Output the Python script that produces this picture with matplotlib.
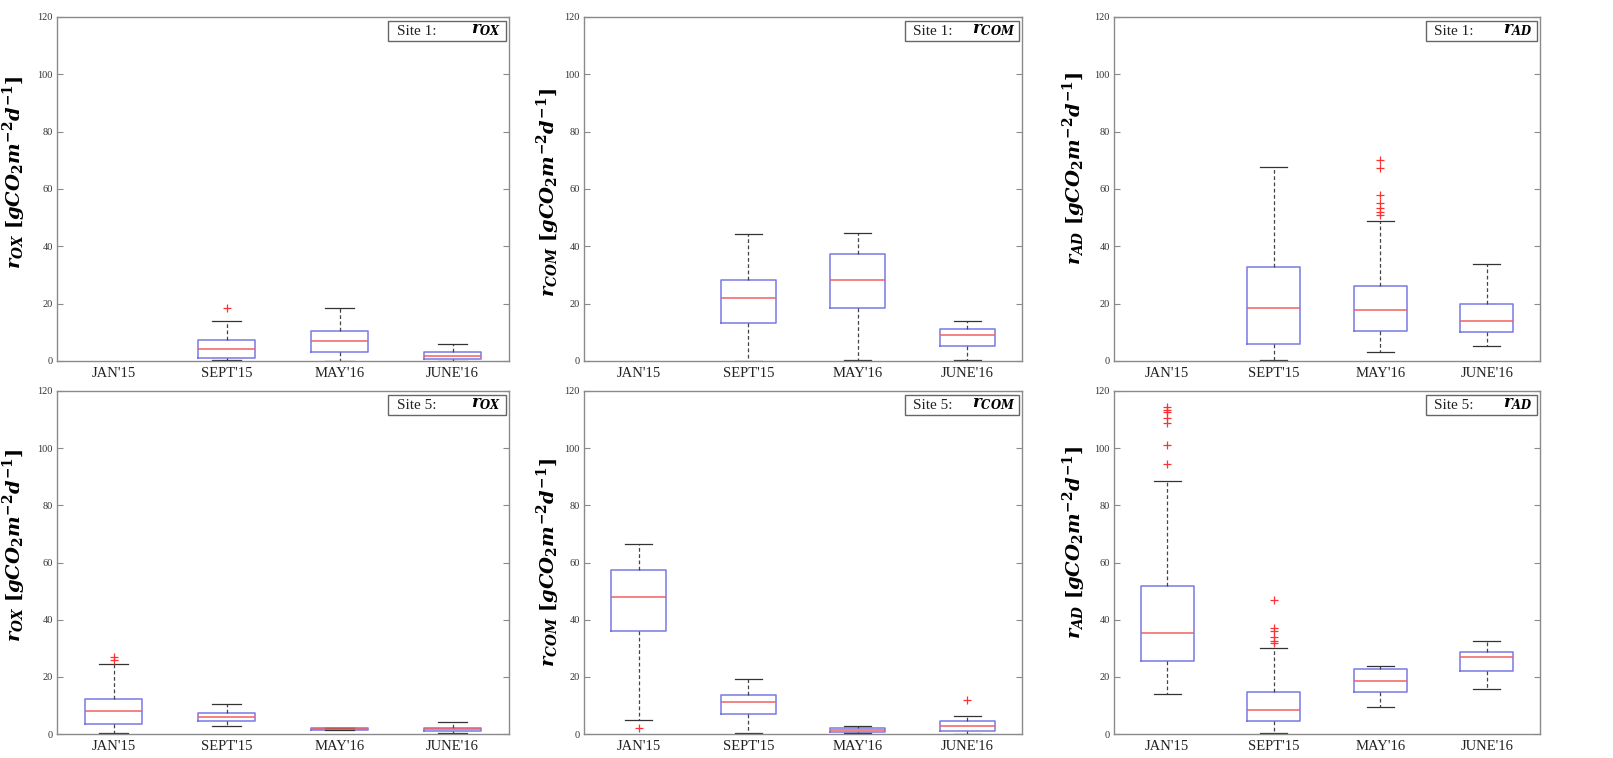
import matplotlib
matplotlib.use("Agg")
import matplotlib.pyplot as plt
from matplotlib.patches import Rectangle

plt.rcParams['mathtext.fontset'] = 'custom'
plt.rcParams['mathtext.it'] = 'DejaVu Serif:italic:bold'
plt.rcParams['mathtext.rm'] = 'DejaVu Serif:bold'
plt.rcParams['mathtext.bf'] = 'DejaVu Serif:bold'
plt.rcParams['font.family'] = ['Liberation Serif', 'DejaVu Serif']

categories = ["JAN'15", "SEPT'15", "MAY'16", "JUNE'16"]
sites = ["Site 1:", "Site 5:"]
rates = ["OX", "COM", "AD"]

# ---- Site 1, r_OX  (None = no data)
s1_ox_q1 = [None, 1.2, 3.0, 0.6]
s1_ox_med = [None, 4.2, 7.1, 1.7]
s1_ox_q3 = [None, 7.3, 10.6, 3.0]
s1_ox_lo = [None, 0.3, 0.1, 0.1]
s1_ox_hi = [None, 13.9, 18.6, 5.8]
s1_ox_fl = [[], [18.4], [], []]

# ---- Site 1, r_COM
s1_com_q1 = [None, 13.4, 18.4, 5.2]
s1_com_med = [None, 22.0, 28.3, 9.2]
s1_com_q3 = [None, 28.2, 37.5, 11.3]
s1_com_lo = [None, 0.1, 0.3, 0.2]
s1_com_hi = [None, 44.2, 44.6, 14.0]
s1_com_fl = [[], [], [], []]

# ---- Site 1, r_AD
s1_ad_q1 = [None, 6.1, 10.6, 10.1]
s1_ad_med = [None, 18.5, 17.8, 13.9]
s1_ad_q3 = [None, 32.7, 26.2, 20.0]
s1_ad_lo = [None, 0.2, 3.0, 5.4]
s1_ad_hi = [None, 67.6, 49.0, 33.9]
s1_ad_fl = [[], [], [70.0, 67.2, 58.0, 55.0, 53.5, 52.0, 51.0], []]

# ---- Site 5, r_OX
s5_ox_q1 = [3.5, 4.5, 1.5, 1.2]
s5_ox_med = [7.9, 5.9, 1.9, 1.6]
s5_ox_q3 = [12.1, 7.2, 2.2, 2.2]
s5_ox_lo = [0.2, 2.8, 1.5, 0.2]
s5_ox_hi = [24.4, 10.4, 2.2, 4.1]
s5_ox_fl = [[26.8, 25.9], [], [], []]

# ---- Site 5, r_COM
s5_com_q1 = [36.0, 6.9, 0.8, 1.2]
s5_com_med = [47.8, 11.1, 1.3, 2.9]
s5_com_q3 = [57.3, 13.6, 2.2, 4.5]
s5_com_lo = [4.9, 0.3, 0.3, 0.1]
s5_com_hi = [66.4, 19.2, 2.7, 6.4]
s5_com_fl = [[2.2], [], [], [11.9]]

# ---- Site 5, r_AD
s5_ad_q1 = [25.5, 4.5, 14.8, 22.0]
s5_ad_med = [35.5, 8.3, 18.6, 27.0]
s5_ad_q3 = [51.9, 14.8, 22.6, 28.7]
s5_ad_lo = [13.9, 0.3, 9.6, 15.6]
s5_ad_hi = [88.6, 30.0, 23.8, 32.7]
s5_ad_fl = [[114.5, 113.5, 112.5, 110.5, 108.8, 101.0, 94.6],
            [46.9, 37.2, 36.0, 34.0, 32.6, 31.7], [], []]

y_ticks = [0, 20, 40, 60, 80, 100, 120]

panels = [
    (0, 0, s1_ox_q1, s1_ox_med, s1_ox_q3, s1_ox_lo, s1_ox_hi, s1_ox_fl),
    (0, 1, s1_com_q1, s1_com_med, s1_com_q3, s1_com_lo, s1_com_hi, s1_com_fl),
    (0, 2, s1_ad_q1, s1_ad_med, s1_ad_q3, s1_ad_lo, s1_ad_hi, s1_ad_fl),
    (1, 0, s5_ox_q1, s5_ox_med, s5_ox_q3, s5_ox_lo, s5_ox_hi, s5_ox_fl),
    (1, 1, s5_com_q1, s5_com_med, s5_com_q3, s5_com_lo, s5_com_hi, s5_com_fl),
    (1, 2, s5_ad_q1, s5_ad_med, s5_ad_q3, s5_ad_lo, s5_ad_hi, s5_ad_fl),
]

W, H = 1613, 758
fig = plt.figure(figsize=(W / 100, H / 100), dpi=100)

col_px = [(57, 509), (584, 1022), (1114, 1540)]
row_px = [(17, 361), (391, 734)]
label_x = [-0.064, -0.050, -0.062]
label_y = [[0.55, 0.49, 0.56], [0.55, 0.50, 0.56]]

box_col = '#7878e6'
med_col = '#f06060'
edge_col = '#8a8a8a'

for r, c, q1, med, q3, lo, hi, fl in panels:
    x0, x1 = col_px[c]
    yt, yb = row_px[r]
    ax = fig.add_axes([x0 / W, 1 - yb / H, (x1 - x0) / W, (yb - yt) / H])
    stats, pos = [], []
    for i in range(len(categories)):
        if med[i] is None:
            continue
        stats.append(dict(q1=q1[i], med=med[i], q3=q3[i], whislo=lo[i],
                          whishi=hi[i], fliers=fl[i]))
        pos.append(i + 1)
    ax.bxp(stats, positions=pos, widths=0.5, showfliers=True,
           boxprops=dict(color=box_col, linewidth=1.1),
           medianprops=dict(color=med_col, linewidth=1.1),
           whiskerprops=dict(color='#444444', linewidth=0.9, linestyle=(0, (3, 2))),
           capprops=dict(color='#333333', linewidth=0.9),
           capwidths=0.25,
           flierprops=dict(marker='+', markeredgecolor='#ff3030',
                           markersize=6, linestyle='none', markeredgewidth=0.9))
    ax.set_xlim(0.5, 4.5)
    ax.set_ylim(0, 120)
    ax.set_xticks(range(1, len(categories) + 1))
    ax.set_xticklabels(categories, fontsize=10.5, color='#222222')
    ax.set_yticks(y_ticks)
    ax.set_yticklabels([str(v) for v in y_ticks], fontsize=7.5, color='#333333')
    ax.tick_params(axis='x', length=0, pad=4)
    ax.tick_params(axis='y', direction='in', length=4, right=True,
                   color=edge_col, pad=3)
    for s in ax.spines.values():
        s.set_color(edge_col)
        s.set_linewidth(1.0)
    ax.set_ylabel(r'$r_{%s}\ [gCO_2m^{-2}d^{-1}]$' % rates[c], fontsize=14)
    ax.yaxis.set_label_coords(label_x[c], label_y[r][c])
    # legend-style box
    ax.add_patch(Rectangle((0.733, 0.930), 0.261, 0.058, transform=ax.transAxes,
                           facecolor='white', edgecolor='#666666', linewidth=1.0,
                           zorder=5))
    ax.text(0.752, 0.959, sites[r], transform=ax.transAxes, fontsize=11,
            va='center', ha='left', zorder=6, color='#222222')
    ax.text(0.984, 0.962, r'$r_{%s}$' % rates[c], transform=ax.transAxes,
            fontsize=12, va='center', ha='right', zorder=6)

fig.savefig('out.png', dpi=100)
